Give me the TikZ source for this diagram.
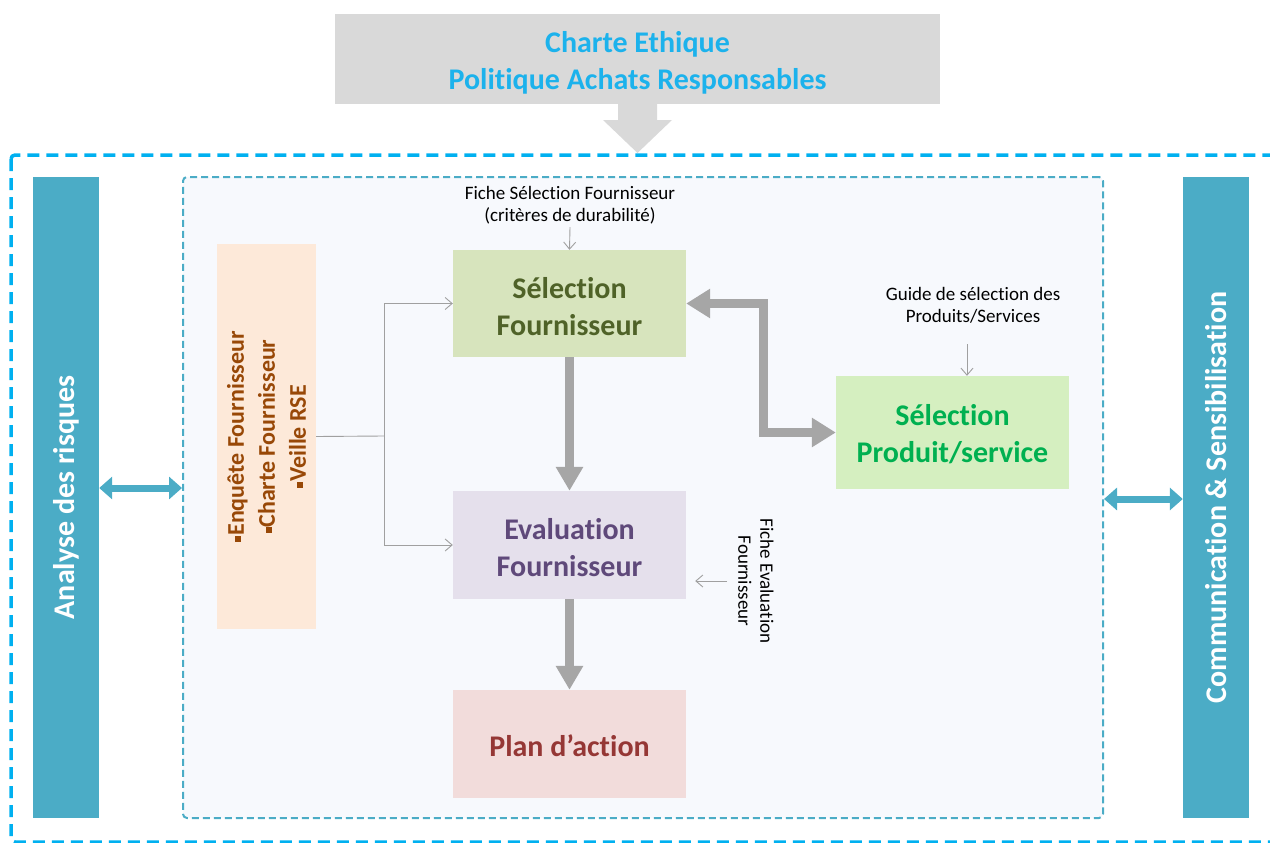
\documentclass[tikz,border=0pt]{standalone}
\usepackage{fontspec}
\setmainfont{Carlito}[Ligatures=NoCommon]
\usetikzlibrary{arrows.meta}
\definecolor{outerblue}{HTML}{00B0F0}
\definecolor{tealc}{HTML}{4BACC6}
\definecolor{innerfill}{HTML}{F7F9FD}
\definecolor{topfill}{HTML}{D9D9D9}
\definecolor{topblue}{HTML}{1CB2EC}
\definecolor{selfill}{HTML}{D7E4BD}
\definecolor{seltext}{HTML}{4F6228}
\definecolor{evfill}{HTML}{E5E0EC}
\definecolor{evtext}{HTML}{5F497A}
\definecolor{plfill}{HTML}{F2DCDB}
\definecolor{pltext}{HTML}{953735}
\definecolor{prfill}{HTML}{D5EFC0}
\definecolor{prtext}{HTML}{00B050}
\definecolor{orfill}{HTML}{FDE9D9}
\definecolor{ortext}{HTML}{984807}
\definecolor{arrgray}{HTML}{A6A6A6}
\definecolor{thingray}{HTML}{A0A0A0}
\newcommand{\sqb}{\rule[3pt]{6pt}{6pt}}
\begin{document}
\begin{tikzpicture}[x=1pt,y=-1pt,
  boxfont/.style={font=\bfseries\fontsize{30}{37}\selectfont},
  procbox/.style={inner sep=0pt, minimum width=233pt, minimum height=107pt},
  proctext/.style={boxfont, align=center, inner sep=0pt},
  barbox/.style={boxfont, fill=tealc, text=white, inner sep=0pt, rotate=90, minimum width=641pt, minimum height=66pt},
  lbl/.style={font=\fontsize{19}{22}\selectfont, align=center, text=black, inner sep=1pt},
  thinarrow/.style={draw=thingray, line width=0.9pt, -{Straight Barb[length=7pt,width=12pt]}},
  thinline/.style={draw=thingray, line width=0.9pt},
  thickarrow/.style={draw=arrgray, line width=9pt, -{Triangle[length=24pt,width=26pt]}},
  thickdouble/.style={draw=arrgray, line width=9pt, {Triangle[length=24pt,width=28pt]}-{Triangle[length=24pt,width=28pt]}},
  tealdouble/.style={draw=tealc, line width=7pt, {Triangle[length=13pt,width=22pt]}-{Triangle[length=13pt,width=22pt]}},
]
\useasboundingbox (0,0) rectangle (1270,843);
% top box and block arrow
\node[fill=topfill, inner sep=0pt, minimum width=605pt, minimum height=90pt] (tb) at (637.5,59) {};
\node[boxfont, text=topblue, align=center, inner sep=0pt] (tbt) at (637.5,63) {Charte Ethique\\Politique Achats Responsables};
\fill[topfill] (618,104) -- (657,104) -- (657,120) -- (672,120) -- (637.5,153) -- (603,120) -- (618,120) -- cycle;
% outer dashed frame
\draw[outerblue, line width=3.5pt, dash pattern=on 12pt off 7pt, rounded corners=4pt] (11,155) rectangle (1300,842);
% inner frame
\node[draw=tealc, fill=innerfill, line width=2pt, dash pattern=on 7pt off 4pt, rounded corners=4pt, inner sep=0pt, minimum width=920pt, minimum height=641pt] (inner) at (643,497.5) {};
% side bars
\node[barbox] (ar) at (66,497.5) {Analyse des risques};
\node[barbox] (cs) at (1216,497.5) {Communication \& Sensibilisation};
\draw[tealdouble] ([yshift=9.5pt]ar.south) -- ([yshift=9.5pt]inner.west);
\draw[tealdouble] ([yshift=-1.5pt]inner.east) -- ([yshift=-1.5pt]cs.north);
% orange box
\node[fill=orfill, text=ortext, rotate=90, inner sep=0pt, minimum width=385pt, minimum height=99pt, align=center, font=\bfseries\fontsize{24}{31}\selectfont] (ob) at (266.5,436.5) {\sqb Enquête Fournisseur\\\sqb Charte Fournisseur\\\sqb Veille RSE};
% process boxes
\node[procbox, fill=selfill] (sf) at (569.5,303.5) {};
\node[proctext, text=seltext] (sft) at (569.5,306.5) {Sélection\\Fournisseur};
\node[procbox, fill=evfill, minimum height=108pt] (ef) at (569.5,545) {};
\node[proctext, text=evtext] (eft) at (569.5,547.5) {Evaluation\\Fournisseur};
\node[procbox, fill=plfill, minimum height=108pt] (pa) at (569.5,744) {};
\node[proctext, text=pltext] (pat) at (569.5,746) {Plan d’action};
\node[procbox, fill=prfill, minimum height=113pt] (ps) at (952.5,432.5) {};
\node[proctext, text=prtext] (pst) at (952.5,434) {Sélection\\Produit/service};
% orange connectors
\coordinate (jn) at (384,436);
\draw[thinline] (ob.south) -- (jn);
\draw[thinarrow] (jn) |- (sf.west);
\draw[thinarrow] (jn) |- (ef.west);
% thick arrows
\draw[thickarrow] (sf.south) -- (ef.north);
\draw[thickarrow] (ef.south) -- (pa.north);
\draw[thickdouble] (sf.east) -- ++(77,0) |- (ps.west);
% labels
\node[lbl] (fsl) at (570,205) {Fiche Sélection Fournisseur\\(critères de durabilité)};
\draw[thinarrow] ([yshift=-2pt]fsl.south) -- (sf.north);
\node[lbl] (gl) at (973,305) {Guide de sélection des\\Produits/Services};
\coordinate (ga) at (967,344);
\draw[thinarrow] (ga) -- (ga |- ps.north);
\node[lbl, rotate=-90] (fe) at (756,581) {Fiche Evaluation\\Fournisseur};
\coordinate (fa) at (727,581);
\draw[thinarrow] (fa) -- ([xshift=9pt]ef.east |- fa);
\end{tikzpicture}
\end{document}
